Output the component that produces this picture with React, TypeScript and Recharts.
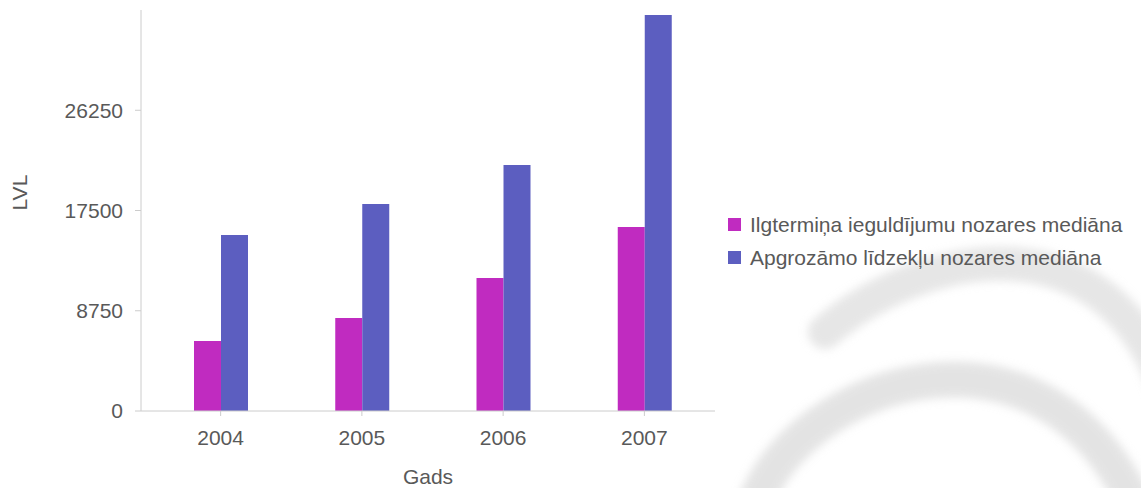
import { BarChart, Bar, XAxis, YAxis } from 'recharts';

// Gadi un mediānas (LVL), nolasītas no attēla
const years = ['2004', '2005', '2006', '2007'];
const longTermMedian = [6110, 8120, 11610, 16060];
const currentAssetsMedian = [15360, 18070, 21470, 34560];
const yTicks = [0, 8750, 17500, 26250];

const seriesNames = ['Ilgtermiņa ieguldījumu nozares mediāna', 'Apgrozāmo līdzekļu nozares mediāna'];
const seriesColors = ['#C02BC0', '#5C5EC0'];

const data = years.map((y, i) => ({
  year: y,
  longTerm: longTermMedian[i],
  current: currentAssetsMedian[i],
}));

const FONT = 'Arial, "Liberation Sans", sans-serif';
const FS = 21;
const TEXT = '#595959';
const AXIS = '#cccccc';

// leģenda blakus grafikam
const LegendList = () => (
  <div style={{ position: 'absolute', left: 728, top: 208, fontFamily: FONT, fontSize: FS, color: TEXT, whiteSpace: 'nowrap' }}>
    {seriesNames.map((name, i) => (
      <div key={i} style={{ display: 'flex', alignItems: 'center', height: 33 }}>
        <span style={{ display: 'inline-block', width: 13, height: 13, background: seriesColors[i], marginRight: 9 }} />
        {name}
      </div>
    ))}
  </div>
);

// fona ūdenszīme (dekoratīvs loks)
const Watermark = () => (
  <svg width={1141} height={488} style={{ position: 'absolute', left: 0, top: 0 }}>
    <defs>
      <filter id="blur" x="-20%" y="-20%" width="140%" height="140%">
        <feGaussianBlur stdDeviation="5" />
      </filter>
    </defs>
    <g filter="url(#blur)" fill="none" strokeLinecap="round" opacity={0.6}>
      <path d="M 825 332 C 920 250, 1110 210, 1170 400" stroke="#d6d6d6" strokeWidth={34} />
      <path d="M 755 505 C 800 380, 1040 300, 1135 505" stroke="#d2d2d2" strokeWidth={36} />
    </g>
  </svg>
);

export default function App() {
  return (
    <div style={{ position: 'absolute', left: 0, top: 0, width: 1141, height: 488, background: '#fff', overflow: 'hidden' }}>
      <Watermark />
      <div style={{ position: 'absolute', left: 0, top: 0 }}>
        <BarChart
          width={1141}
          height={488}
          data={data}
          margin={{ top: 10, right: 426, bottom: 0, left: 0 }}
          barSize={27}
          barGap={0}
        >
          <XAxis
            dataKey="year"
            height={77}
            padding={{ left: 9, right: 0 }}
            stroke={AXIS}
            tickSize={5}
            tickMargin={14}
            tick={{ fill: TEXT, fontSize: FS, fontFamily: FONT }}
            label={{ value: 'Gads', position: 'insideBottom', offset: 4, fill: TEXT, fontSize: FS, fontFamily: FONT }}
          />
          <YAxis
            width={141}
            domain={[0, 35000]}
            ticks={yTicks}
            stroke={AXIS}
            tickSize={6}
            tickMargin={12}
            tick={{ fill: TEXT, fontSize: FS, fontFamily: FONT }}
            label={{ value: 'LVL', angle: -90, position: 'insideLeft', offset: 20, fill: TEXT, fontSize: FS, fontFamily: FONT }}
          />
          <Bar dataKey="longTerm" name={seriesNames[0]} fill={seriesColors[0]} isAnimationActive={false} />
          <Bar dataKey="current" name={seriesNames[1]} fill={seriesColors[1]} isAnimationActive={false} />
        </BarChart>
      </div>
      <LegendList />
    </div>
  );
}
